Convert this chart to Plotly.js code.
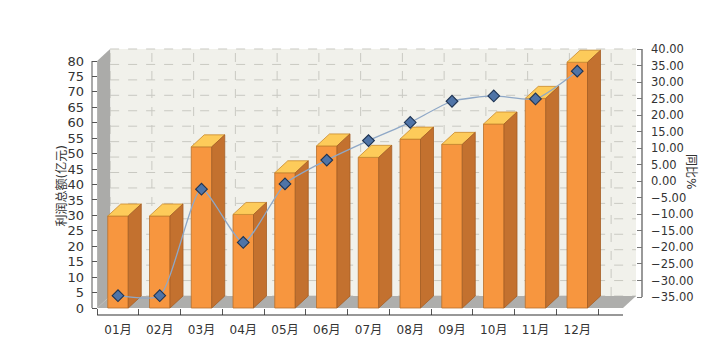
<!DOCTYPE html>
<html><head><meta charset="utf-8">
<script src="https://cdn.plot.ly/plotly-3.0.1.min.js"></script>
<style>html,body{margin:0;padding:0;background:#fff}#chart{width:728px;height:362px}</style>
</head><body><div id="chart"></div>
<script>
// ---- data ----
const months = ['01月','02月','03月','04月','05月','06月','07月','08月','09月','10月','11月','12月'];
const profit = [29.8, 29.8, 52.2, 30.3, 43.8, 52.5, 48.8, 54.7, 53.0, 59.6, 67.9, 79.6];
const growth = [-34.6, -34.6, -2.4, -18.5, -0.8, 6.4, 12.3, 17.8, 24.2, 25.8, 24.9, 33.3];
const leftTicks = [0,5,10,15,20,25,30,35,40,45,50,55,60,65,70,75,80];
const rightTicks = [-35,-30,-25,-20,-15,-10,-5,0,5,10,15,20,25,30,35,40];
const leftTitle = '利润总额(亿元)';
const rightTitle = '同比%';

// ---- geometry (pixels) ----
const W = 728, H = 362;
const catPx0 = 118, catStep = 41.75;
const plotL = 92, plotR = 650, plotT = 40, plotB = 315;
const zeroPx = 308, topTickPx = 61;
const pxPerUnit = (zeroPx - topTickPx) / 80;
const r2TopPx = 49, r2BotPx = 297;
const px2 = (r2BotPx - r2TopPx) / 75;
const depthX = 13 / catStep, depthY = 12 / pxPerUnit;
const barW = 20.5 / catStep;
const floorRightPx = 623;

const xs = months.map((m, i) => i);
const bounds = months.map((m, i) => i - 0.5);
const xMin = (plotL - catPx0) / catStep, xMax = (plotR - catPx0) / catStep;
const yMin = -(plotB - zeroPx) / pxPerUnit, yMax = (zeroPx - plotT) / pxPerUnit;
const y2Max = 40 + (r2TopPx - plotT) / px2, y2Min = 40 - (plotB - r2TopPx) / px2;
const wallL = xs[0] - 0.5;
const floorR = (floorRightPx - catPx0) / catStep;
const yTop = leftTicks[leftTicks.length - 1];

// ---- 3D faces of bars ----
const topX = [], topY = [], sideX = [], sideY = [];
xs.forEach((x, i) => {
  const l = x - barW / 2, r = x + barW / 2, v = profit[i];
  topX.push(l, r, r + depthX, l + depthX, l, null);
  topY.push(v, v, v + depthY, v + depthY, v, null);
  sideX.push(r, r, r + depthX, r + depthX, r, null);
  sideY.push(0, v, v + depthY, depthY, 0, null);
});

const path = pts => 'M' + pts.map(p => p[0] + ',' + p[1]).join(' L') + ' Z';

const shapes = [];
// back wall
shapes.push({type:'path', xref:'x', yref:'y', layer:'below',
  path: path([[wallL+depthX, depthY],[floorR+depthX, depthY],[floorR+depthX, yTop+depthY],[wallL+depthX, yTop+depthY]]),
  fillcolor:'#F1F1EB', line:{width:0}});
// back wall grid
leftTicks.forEach(t => shapes.push({type:'line', xref:'x', yref:'y', layer:'below',
  x0: wallL+depthX, x1: floorR+depthX, y0: t+depthY, y1: t+depthY,
  line:{color:'#C9C9C2', width:1, dash:'dash'}}));
bounds.concat([bounds[bounds.length-1]+1]).forEach(b => { if (b+depthX < floorR+depthX) shapes.push({type:'line', xref:'x', yref:'y', layer:'below',
  x0: b+depthX, x1: b+depthX, y0: depthY, y1: yTop+depthY,
  line:{color:'#C9C9C2', width:1, dash:'dash'}}); });
// left wall
shapes.push({type:'path', xref:'x', yref:'y', layer:'below',
  path: path([[wallL, 0],[wallL, yTop],[wallL+depthX, yTop+depthY],[wallL+depthX, depthY]]),
  fillcolor:'#ABABA9', line:{width:0}});
// floor
shapes.push({type:'path', xref:'x', yref:'y', layer:'below',
  path: path([[wallL, 0],[floorR, 0],[floorR+depthX, depthY],[wallL+depthX, depthY]]),
  fillcolor:'#AEAEAC', line:{width:0}});
// axis lines
shapes.push({type:'line', xref:'paper', yref:'y', x0: plotL/W, x1: plotL/W, y0: 0, y1: yTop, line:{color:'#555', width:1}});
shapes.push({type:'line', xref:'paper', yref:'y2', x0: 642/W, x1: 642/W, y0: rightTicks[0], y1: rightTicks[rightTicks.length-1], line:{color:'#777', width:1.5}});
shapes.push({type:'line', xref:'x', yref:'paper', x0: wallL, x1: floorR, y0: 1 - plotB/H, y1: 1 - plotB/H, line:{color:'#333', width:1.2}});

const traces = [
  {type:'bar', x: xs, y: profit, width: barW, marker:{color:'#F7963F', line:{color:'#B8702C', width:0.8}}, hoverinfo:'skip'},
  {type:'scatter', mode:'lines', x: topX, y: topY, fill:'toself', fillcolor:'#FDCB5A', line:{color:'#C98A2E', width:0.8}, hoverinfo:'skip'},
  {type:'scatter', mode:'lines', x: sideX, y: sideY, fill:'toself', fillcolor:'#C3712F', line:{color:'#A55E25', width:0.8}, hoverinfo:'skip'},
  {type:'scatter', mode:'lines+markers', x: xs, y: growth, yaxis:'y2', cliponaxis:false,
   line:{color:'#8FA8C7', width:1.3, shape:'spline', smoothing:0.6},
   marker:{symbol:'diamond', size:9, color:'#4F74A7', line:{color:'#1E3352', width:1.1}}, hoverinfo:'skip'}
];

const font = 'DejaVu Sans, Noto Sans CJK SC, sans-serif';
const layout = {
  width: W, height: H, margin:{l:0, r:0, t:0, b:0},
  paper_bgcolor:'#ffffff', plot_bgcolor:'rgba(0,0,0,0)', showlegend:false,
  font:{family: font, size:12, color:'#333'},
  xaxis:{domain:[plotL/W, plotR/W], range:[xMin, xMax], tickmode:'array', tickvals: xs, ticktext: months,
    ticks:'', showgrid:false, zeroline:false, showline:false, ticklabelstandoff:6,
    tickfont:{size:12, color:'#333'},
    minor:{tickmode:'array', tickvals: bounds.concat([bounds[bounds.length-1]+1]), ticks:'inside', ticklen:6, tickcolor:'#555', showgrid:false}},
  yaxis:{domain:[1 - plotB/H, 1 - plotT/H], range:[yMin, yMax], tickmode:'array', tickvals: leftTicks,
    ticks:'inside', ticklen:5, tickcolor:'#555', showgrid:false, zeroline:false, showline:false,
    ticklabelstandoff:7, tickfont:{size:13, color:'#333'}},
  yaxis2:{overlaying:'y', side:'right', anchor:'free', position: 642/W, range:[y2Min, y2Max],
    tickmode:'array', tickvals: rightTicks, tickformat:'.2f', ticks:'inside', ticklen:5, tickcolor:'#777',
    showgrid:false, zeroline:false, showline:false, ticklabelstandoff:8, tickfont:{size:11.5, color:'#333'}},
  shapes: shapes,
  annotations:[
    {text: leftTitle, xref:'paper', yref:'paper', x: 51/W, y: 1 - 186/H, textangle:-90, showarrow:false, font:{size:12, color:'#333'}},
    {text: rightTitle, xref:'paper', yref:'paper', x: 700/W, y: 1 - 171/H, textangle:90, showarrow:false, font:{size:12, color:'#333'}}
  ]
};
Plotly.newPlot('chart', traces, layout, {staticPlot:true, displayModeBar:false});
</script></body></html>
